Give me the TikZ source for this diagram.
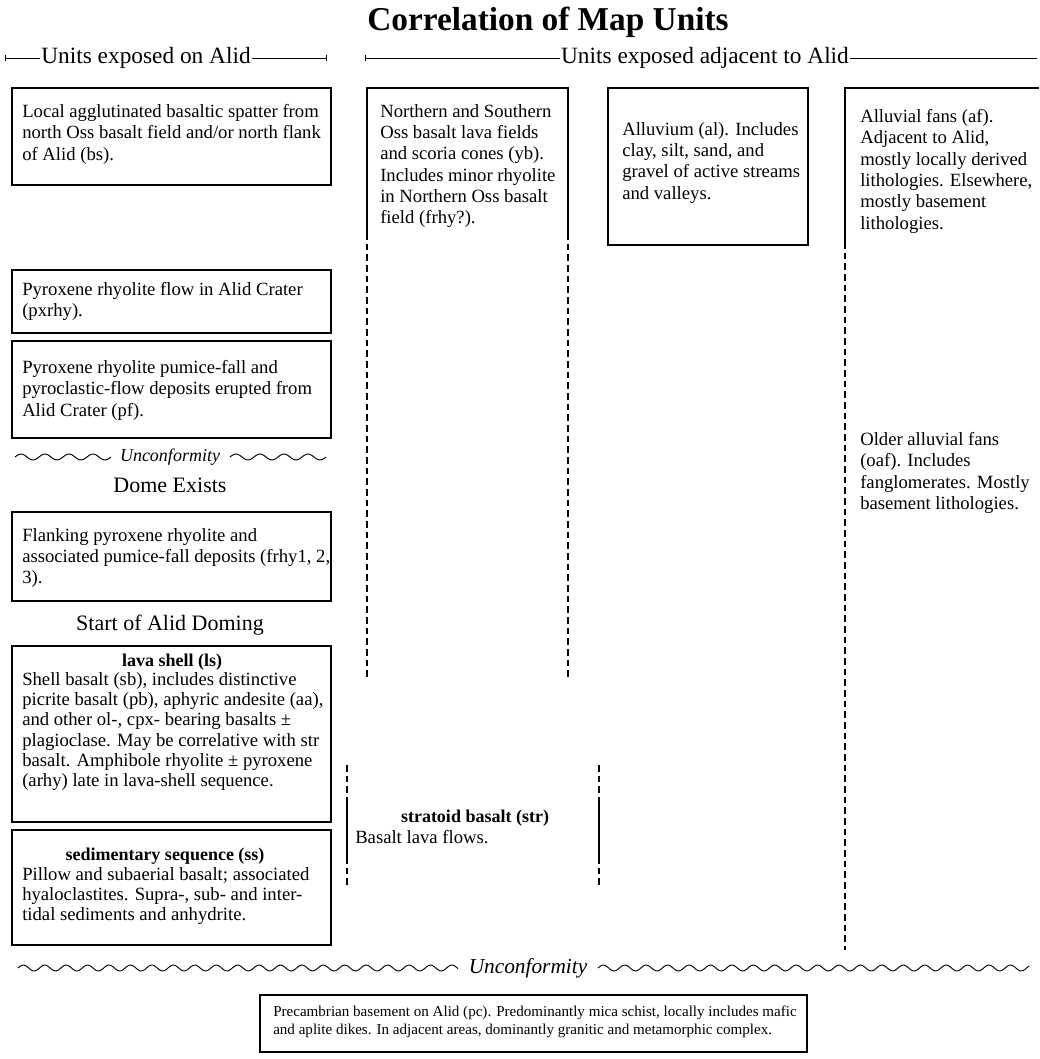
\documentclass[tikz,border=0pt]{standalone}
\usepackage{fontspec}
\setmainfont{Liberation Serif}
\usetikzlibrary{arrows.meta}
\begin{document}
\begin{tikzpicture}[x=0.75pt,y=-0.75pt,
    unitbox/.style={draw,line width=0.9pt},
    sidedash/.style={line width=0.9pt,dash pattern=on 5pt off 3pt},
    unittext/.style={anchor=north west,inner sep=0pt,align=left,font=\fontsize{14}{16}\selectfont},
    unittitle/.style={inner sep=0pt,font=\fontsize{13.5}{15}\selectfont\bfseries},
    stagetext/.style={inner sep=0pt,font=\fontsize{16.5}{18}\selectfont},
    headtext/.style={inner sep=1pt,font=\fontsize{17.5}{20}\selectfont},
    wave/.style={line width=0.7pt,smooth}]
  \useasboundingbox (0,0) rectangle (1039,1059);

  \node[font=\fontsize{25}{29}\selectfont\bfseries] (title) at (548,22) {Correlation of Map Units};

  % column headings
  \node[headtext] (hdon) at (146,58) {Units exposed on Alid};
  \draw[{Bar[width=5pt]}-] (5,58) -- (hdon.west);
  \draw[-{Bar[width=5pt]}] (hdon.east) -- (327,58);
  \node[headtext] (hdadj) at (705,58) {Units exposed adjacent to Alid};
  \draw[{Bar[width=5pt]}-] (365,58) -- (hdadj.west);
  \draw (hdadj.east) -- (1037,58);

  % units exposed on Alid
  \draw[unitbox] (12,88) rectangle (331,185);
  \node[unittext] (bs) at (22,104) {Local agglutinated basaltic spatter from\\north Oss basalt field and/or north flank\\of Alid (bs).};
  \draw[unitbox] (12,270) rectangle (331,333);
  \node[unittext] (pxrhy) at (22,282) {Pyroxene rhyolite flow in Alid Crater\\(pxrhy).};
  \draw[unitbox] (12,341) rectangle (331,438);
  \node[unittext] (pf) at (22,360) {Pyroxene rhyolite pumice-fall and\\pyroclastic-flow deposits erupted from\\Alid Crater (pf).};

  \node[inner sep=0pt,font=\fontsize{13.5}{15}\selectfont\itshape] (unc1) at (170,457) {Unconformity};
  \draw[wave] plot[domain=15:111,samples=60] (\x,{457-3*sin(15*(\x-15))});
  \draw[wave] plot[domain=230:326,samples=60] (\x,{457-3*sin(15*(\x-230))});
  \node[stagetext] (dome) at (170,485) {Dome Exists};

  \draw[unitbox] (12,512) rectangle (331,601);
  \node[unittext] (frhy) at (22,528) {Flanking pyroxene rhyolite and\\associated pumice-fall deposits (frhy1, 2,\\3).};
  \node[stagetext] (doming) at (170,625) {Start of Alid Doming};

  \draw[unitbox] (12,646) rectangle (331,822);
  \node[unittitle] (ls) at (172,662) {lava shell (ls)};
  \node[unittext,font=\fontsize{14}{15.2}\selectfont] (sb) at (22,672) {Shell basalt (sb), includes distinctive\\picrite basalt (pb), aphyric andesite (aa),\\and other ol-, cpx- bearing basalts ±\\plagioclase. May be correlative with str\\basalt. Amphibole rhyolite ± pyroxene\\(arhy) late in lava-shell sequence.};

  \draw[unitbox] (12,830) rectangle (331,945);
  \node[unittitle] (ss) at (165,856) {sedimentary sequence (ss)};
  \node[unittext,font=\fontsize{14}{15.2}\selectfont] (pillow) at (22,867) {Pillow and subaerial basalt; associated\\hyaloclastites. Supra-, sub- and inter-\\tidal sediments and anhydrite.};

  % units exposed adjacent to Alid
  \draw[unitbox] (367,233) -- (367,88) -- (568,88) -- (568,233);
  \draw[sidedash] (367,233) -- (367,677);
  \draw[sidedash] (568,233) -- (568,677);
  \node[unittext] (yb) at (380,104) {Northern and Southern\\Oss basalt lava fields\\and scoria cones (yb).\\Includes minor rhyolite\\in Northern Oss basalt\\field (frhy?).};

  \draw[unitbox] (608,88) rectangle (808,245);
  \node[unittext] (al) at (622,122) {Alluvium (al). Includes\\clay, silt, sand, and\\gravel of active streams\\and valleys.};

  \draw[unitbox] (1039,88) -- (845,88) -- (845,242);
  \draw[sidedash] (845,242) -- (845,950);
  \node[unittext] (af) at (860,109) {Alluvial fans (af).\\Adjacent to Alid,\\mostly locally derived\\lithologies. Elsewhere,\\mostly basement\\lithologies.};
  \node[unittext] (oaf) at (860,432) {Older alluvial fans\\(oaf). Includes\\fanglomerates. Mostly\\basement lithologies.};

  \foreach \xs in {347,599} {
    \draw[sidedash] (\xs,765) -- (\xs,800);
    \draw[unitbox] (\xs,800) -- (\xs,857);
    \draw[sidedash] (\xs,857) -- (\xs,888);
  }
  \node[unittitle] (str) at (475,818) {stratoid basalt (str)};
  \node[unittext] (flows) at (355,830) {Basalt lava flows.};

  % basement
  \node[inner sep=0pt,font=\fontsize{16}{18}\selectfont\itshape] (unc2) at (528,968) {Unconformity};
  \draw[wave] plot[domain=18:458,samples=240] (\x,{968-3*sin(16.8*(\x-18))});
  \draw[wave] plot[domain=598:1029,samples=240] (\x,{968-3*sin(16.8*(\x-598))});
  \draw[unitbox] (260,995) rectangle (807,1052);
  \node[unittext,font=\fontsize{11.3}{13.5}\selectfont] (pc) at (273,1006) {Precambrian basement on Alid (pc). Predominantly mica schist, locally includes mafic\\and aplite dikes. In adjacent areas, dominantly granitic and metamorphic complex.};
\end{tikzpicture}
\end{document}
